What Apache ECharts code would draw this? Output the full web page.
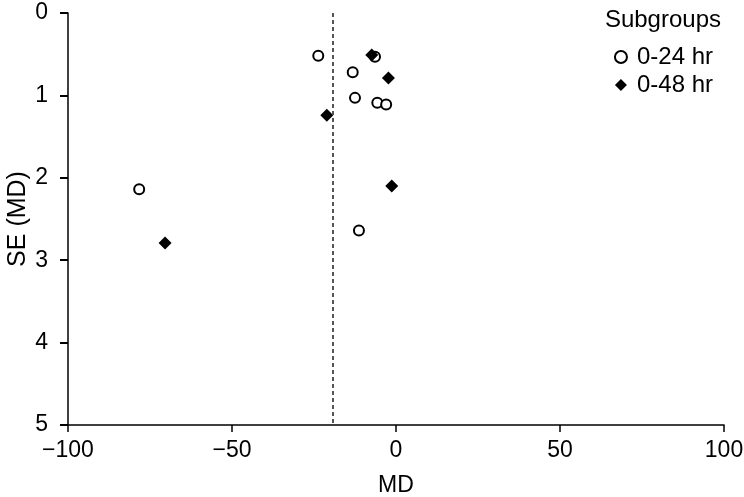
<!DOCTYPE html>
<html>
<head>
<meta charset="utf-8">
<script src="https://cdn.jsdelivr.net/npm/echarts@6/dist/echarts.min.js"></script>
<style>
  html, body { margin: 0; padding: 0; background: #fff; }
  #funnelChart { width: 744px; height: 497px; }
</style>
</head>
<body>
<div id="funnelChart"></div>
<script>
  // 数据：0-24 hr 组
  const md24 = [-23.7, -6.4, -13.2, -12.5, -5.7, -3.0, -78.3, -11.3]
  const se24 = [0.52, 0.53, 0.72, 1.03, 1.09, 1.11, 2.14, 2.64]
  // 数据：0-48 hr 组
  const md48 = [-7.4, -2.3, -21.1, -1.3, -70.4]
  const se48 = [0.51, 0.79, 1.24, 2.10, 2.79]
  const pooledMD = -19.4
  const groupNames = ['0-24 hr', '0-48 hr']
  const xTicks = [-100, -50, 0, 50, 100]
  const yTicks = [0, 1, 2, 3, 4, 5]

  const font = 'Liberation Sans, Arial, sans-serif'
  const toPairs = (xs, ys) => xs.map((x, i) => [x, ys[i]])

  let chart = echarts.init(document.getElementById('funnelChart'))
  chart.setOption({
    animation: false,
    title: {
      text: 'Subgroups',
      right: 23,
      top: 8,
      padding: 0,
      textStyle: { color: '#000', fontWeight: 'normal', fontSize: 24, fontFamily: font }
    },
    legend: {
      orient: 'vertical',
      right: 31,
      top: 45,
      padding: 0,
      itemGap: 4,
      itemWidth: 12,
      itemHeight: 12,
      data: groupNames,
      textStyle: { color: '#000', fontSize: 24, fontFamily: font, padding: [0, 0, 0, 5] }
    },
    grid: { left: 68, right: 20, top: 13, bottom: 72, outerBoundsMode: 'none', containLabel: false },
    xAxis: {
      type: 'value',
      min: xTicks[0],
      max: xTicks[xTicks.length - 1],
      interval: 50,
      name: 'MD',
      nameLocation: 'middle',
      nameGap: 49,
      nameMoveOverlap: false,
      nameTextStyle: { color: '#000', fontSize: 23, fontFamily: font },
      splitLine: { show: false },
      axisLine: { show: true, onZero: false, lineStyle: { color: '#000', width: 1.5 } },
      axisTick: { show: true, length: 7, lineStyle: { color: '#000', width: 1.5 } },
      axisLabel: {
        color: '#000', fontSize: 23, fontFamily: font, margin: 14,
        formatter: v => (v < 0 ? '\u2212' + Math.abs(v) : String(v))
      }
    },
    yAxis: {
      type: 'value',
      position: 'left',
      inverse: true,
      min: yTicks[0],
      max: yTicks[yTicks.length - 1],
      interval: 1,
      name: 'SE (MD)',
      nameLocation: 'middle',
      nameGap: 37,
      nameMoveOverlap: false,
      nameTextStyle: { color: '#000', fontSize: 25, fontFamily: font },
      splitLine: { show: false },
      axisLine: { show: true, onZero: false, lineStyle: { color: '#000', width: 1.5 } },
      axisTick: { show: true, length: 8, lineStyle: { color: '#000', width: 2 } },
      axisLabel: { color: '#000', fontSize: 23, fontFamily: font, margin: 20 }
    },
    series: [
      {
        name: groupNames[0],
        type: 'scatter',
        symbol: 'circle',
        symbolSize: 10,
        itemStyle: { color: '#fff', borderColor: '#000', borderWidth: 2, opacity: 1 },
        data: toPairs(md24, se24),
        markLine: {
          silent: true,
          symbol: 'none',
          label: { show: false },
          lineStyle: { color: '#555', type: [4, 3], width: 2 },
          data: [{ xAxis: pooledMD }]
        }
      },
      {
        name: groupNames[1],
        type: 'scatter',
        symbol: 'diamond',
        symbolSize: 13,
        itemStyle: { color: '#000', opacity: 1 },
        data: toPairs(md48, se48)
      }
    ]
  })
</script>
</body>
</html>
